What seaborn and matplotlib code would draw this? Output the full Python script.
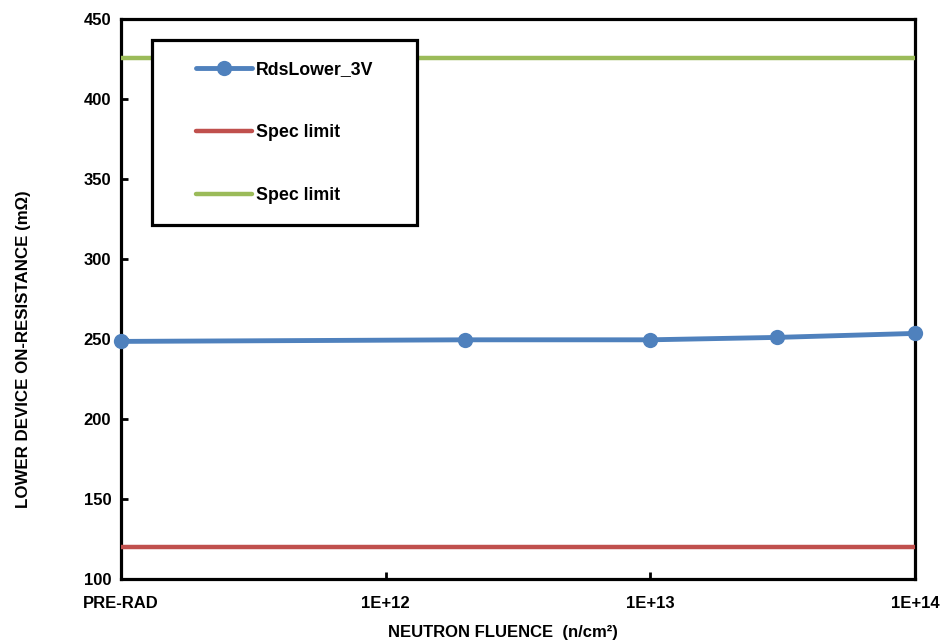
import matplotlib
matplotlib.use("Agg")
import matplotlib.pyplot as plt
from matplotlib.patches import Rectangle
import seaborn as sns
import pandas as pd

# Data
fluence = [1e11, 2e12, 1e13, 3e13, 1e14]
rds_lower_3v = [248.5, 249.5, 249.5, 251.0, 253.5]
spec_low = [120]
spec_high = [425.5]
xtick_vals = [1e11, 1e12, 1e13, 1e14]
xtick_labels = ["PRE-RAD", "1E+12", "1E+13", "1E+14"]
ytick_vals = [100, 150, 200, 250, 300, 350, 400, 450]

sns.set_theme(style="white")
plt.rcParams["font.family"] = ["Liberation Sans", "DejaVu Sans"]
plt.rcParams["font.weight"] = "bold"

fig, ax = plt.subplots(figsize=(9.42, 6.44), dpi=100)
fig.subplots_adjust(left=0.1285, right=0.9713, top=0.9705, bottom=0.1009)

df = pd.DataFrame({"x": fluence, "y": rds_lower_3v})
sns.lineplot(data=df, x="x", y="y", ax=ax, color="#4F81BD", linewidth=3.5,
             marker="o", markersize=11, markeredgewidth=0, label="RdsLower_3V",
             zorder=4, clip_on=False)
ax.axhline(spec_low[0], color="#C0504D", linewidth=3.2, label="Spec limit", zorder=3)
ax.axhline(spec_high[0], color="#9BBB59", linewidth=3.2, label="Spec limit", zorder=3)

ax.set_xscale("log")
ax.set_xlim(1e11, 1e14)
ax.set_ylim(100, 450)
ax.set_xticks(xtick_vals)
ax.set_xticklabels(xtick_labels)
ax.xaxis.set_minor_locator(matplotlib.ticker.NullLocator())
ax.set_yticks(ytick_vals)

for lab in ax.get_xticklabels() + ax.get_yticklabels():
    lab.set_fontweight("bold")
    lab.set_fontsize(12)
    lab.set_color("black")

ax.tick_params(axis="both", which="major", direction="in", length=5, width=2,
               color="black", left=True, bottom=True)
ax.tick_params(axis="x", pad=12)
ax.tick_params(axis="y", pad=7)

for sp in ax.spines.values():
    sp.set_linewidth(2.3)
    sp.set_color("black")

ax.set_xlabel("NEUTRON FLUENCE  (n/cm\u00b2)", fontsize=12, fontweight="bold",
              color="black")
ax.set_ylabel("LOWER DEVICE ON-RESISTANCE (m\u03a9)", fontsize=12.2, fontweight="bold",
              color="black")
ax.xaxis.set_label_coords(0.481, -0.082)
ax.yaxis.set_label_coords(-0.113, 0.41)

# legend frame box
frame = Rectangle((0.039, 0.632), 0.3338, 0.3305, transform=ax.transAxes,
                  facecolor="white", edgecolor="black", linewidth=2.3, zorder=5)
ax.add_patch(frame)

leg = ax.legend(loc="upper left", bbox_to_anchor=(0.0945, 0.9245), borderaxespad=0,
                frameon=False, fontsize=12.8, labelspacing=2.58,
                handlelength=3.15, handletextpad=0.22, borderpad=0)
leg.set_zorder(6)
for t in leg.get_texts():
    t.set_fontweight("bold")
    t.set_color("black")

fig.savefig("out.png", dpi=100)
